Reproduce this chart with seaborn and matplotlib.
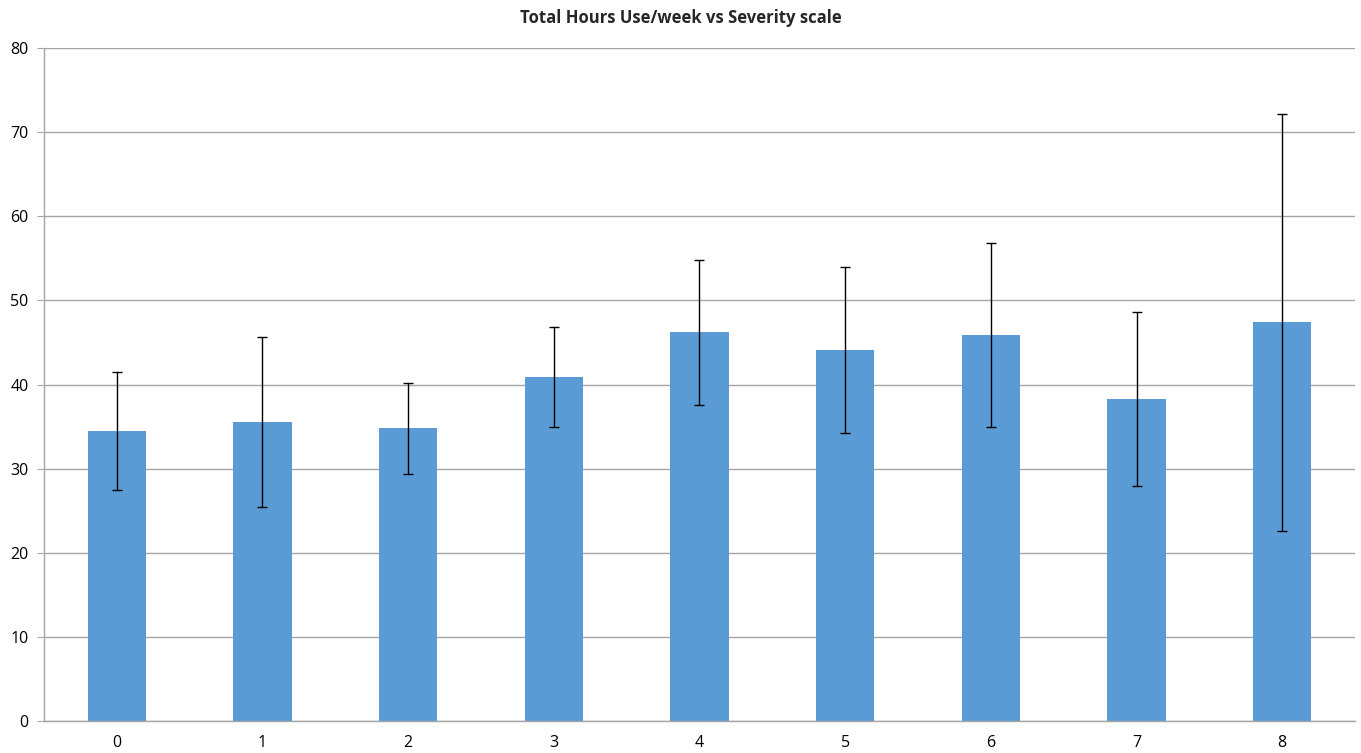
import numpy as np
import pandas as pd
import matplotlib.pyplot as plt
import seaborn as sns

# values
severity = ['0', '1', '2', '3', '4', '5', '6', '7', '8']
mean_hours = [34.5, 35.5, 34.8, 40.9, 46.2, 44.1, 45.9, 38.3, 47.4]
err_hours = [7.0, 10.1, 5.4, 6.0, 8.6, 9.9, 10.9, 10.3, 24.8]

df = pd.DataFrame({'Severity': severity, 'Hours': mean_hours})

sns.set_style('white')
plt.rcParams['font.family'] = ['Open Sans', 'DejaVu Sans']

fig = plt.figure(figsize=(13.61, 7.53), dpi=100)
ax = fig.add_axes([0.0323, 0.0425, 0.9633, 0.8935])

sns.barplot(data=df, x='Severity', y='Hours', color='#5B9BD5', saturation=1,
            width=0.4, linewidth=0, ax=ax, zorder=2)
ax.errorbar(np.arange(len(severity)), mean_hours, yerr=err_hours, fmt='none',
            ecolor='black', elinewidth=1, capsize=3.5, capthick=1, zorder=3)

ax.set_ylim(0, 80)
ax.set_xlim(-0.5, len(severity) - 0.5)
ax.set_yticks(range(0, 81, 10))
ax.yaxis.grid(True, color='#A6A6A6', linewidth=1, zorder=0)
ax.set_axisbelow(True)

for s in ['top', 'right']:
    ax.spines[s].set_visible(False)
for s in ['left', 'bottom']:
    ax.spines[s].set_color('#A6A6A6')
    ax.spines[s].set_linewidth(1)

# category boundary ticks like the original
ax.set_xticks(np.arange(-0.5, len(severity)), minor=True)
ax.tick_params(axis='x', which='minor', length=5, color='#A6A6A6', direction='out')
ax.tick_params(axis='x', which='major', length=0, labelsize=11.5, pad=10, labelcolor='black')
ax.tick_params(axis='y', length=5, color='#A6A6A6', direction='out', labelsize=11.5,
               pad=6, labelcolor='black')
ax.tick_params(left=True, bottom=True)

ax.set_xlabel('')
ax.set_ylabel('')
fig.suptitle('Total Hours Use/week vs Severity scale', fontsize=12, fontweight='bold',
             x=0.5, y=0.988)

plt.savefig('out.png', dpi=100)
